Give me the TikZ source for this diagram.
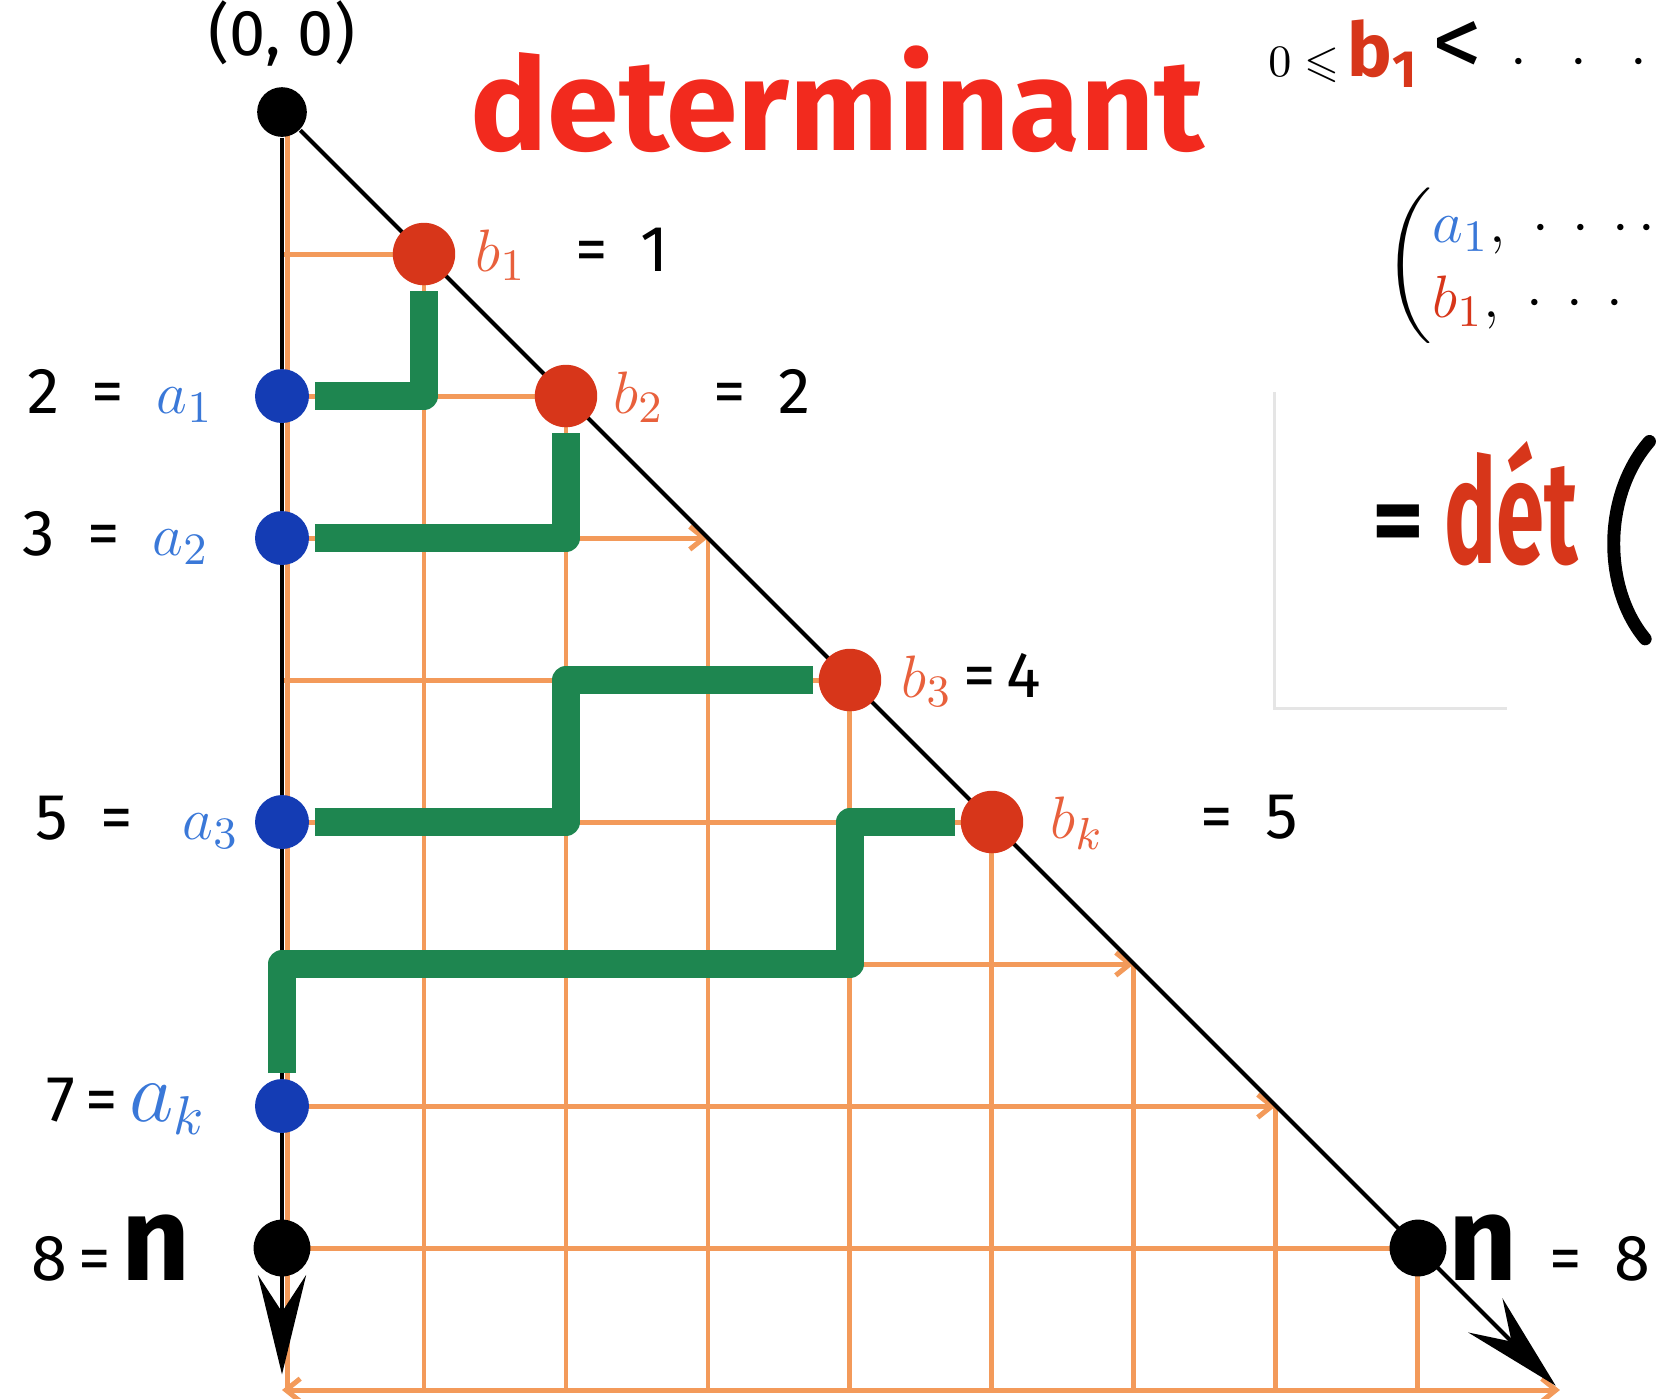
\documentclass[tikz,border=0pt]{standalone}
\usepackage{amsmath,amssymb}
\usepackage{fontspec}
\setmainfont{Fira Sans}
\usepackage{tikz}
\usetikzlibrary{arrows.meta,positioning,calc}
\definecolor{gridor}{HTML}{F39A5A}
\definecolor{pathgreen}{HTML}{1E8650}
\definecolor{dotred}{HTML}{D7361A}
\definecolor{dotblue}{HTML}{143CB4}
\definecolor{titlered}{HTML}{F22A1E}
\definecolor{labred}{HTML}{E8603C}
\definecolor{labblue}{HTML}{3A78D8}

\begin{document}
\begin{tikzpicture}[x=1cm, y=-1cm, >=Stealth,
  grd/.style={draw=gridor, line width=1pt},
  grdtip/.style={grd, -{Straight Barb[length=1mm, width=1.6mm]}},
  lpath/.style={draw=pathgreen, line width=5.6pt, line join=round, shorten <=1pt, shorten >=1pt},
  dotc/.style={circle, inner sep=0pt, minimum size=#1},
  rdot/.style={dotc=4.4mm, fill=dotred},
  bdot/.style={dotc=3.8mm, fill=dotblue},
  kdot/.style={dotc=4mm, fill=black},
  arr/.style={draw=black, line width=0.8pt, -{Stealth[length=7mm, width=3.4mm, inset=2.6mm]}},
  lab/.style={font=\fontsize{13}{15}\selectfont, inner sep=0pt}]
  \useasboundingbox (-1.986,-0.789) rectangle (9.775,9.063);
  \draw[black!10, line width=0.6pt] (6.99,1.97) |- (8.63,4.2);

  % grid under the diagonal
  \draw[grd] (0.04,0) -- (0.04,9);
  \foreach \i in {1,2,4,5,8} \draw[grd] (0,\i) -- (\i,\i);
  \foreach \i in {3,6,7} \draw[grdtip] (0,\i) -- (\i,\i);
  \draw[grd, {Straight Barb[length=1mm, width=1.6mm]}-{Straight Barb[length=1mm, width=1.6mm]}] (0,9) -- (9,9);
  \foreach \j in {1,...,8} \draw[grd] (\j,\j) -- (\j,9);

  \node[kdot, minimum size=3.5mm] (o) at (0,0) {};
  \coordinate (vtip) at (0,8.89);
  \coordinate (dtip) at (8.97,8.97);
  \draw[arr] (o) -- (vtip);
  \draw[arr] (o) -- (dtip);

  \node[rdot] (b1) at (1,1) {};
  \node[rdot] (b2) at (2,2) {};
  \node[rdot] (b3) at (4,4) {};
  \node[rdot] (bk) at (5,5) {};
  \node[kdot] (nd) at (8,8) {};
  \node[bdot] (a1) at (0,2) {};
  \node[bdot] (a2) at (0,3) {};
  \node[bdot] (a3) at (0,5) {};
  \node[bdot] (ak) at (0,7) {};
  \node[kdot] (na) at (0,8) {};

  % lattice paths
  \coordinate (c3) at (2,4);
  \coordinate (c4) at (4,6);
  \draw[lpath] (a1) -| (b1);
  \draw[lpath] (a2) -| (b2);
  \draw[lpath] (a3) -| (c3) -- (b3);
  \draw[lpath] (ak) |- (c4) |- (bk);

  \node[lab, above=1.3mm of o] (orig) {(0,\ 0)};
  \node[text=titlered, anchor=base west, inner sep=0pt] (title) at (1.32,0.27)
    {\resizebox{5.17cm}{!}{\bfseries determinant}};

  \node[lab, left=0.28cm of a1] (l2) {2\enspace=\enspace\textcolor{labblue}{$a_1$}};
  \node[lab, left=0.31cm of a2] (l3) {3\enspace=\enspace\textcolor{labblue}{$a_2$}};
  \node[lab, left=0.1cm of a3] (l5) {5\enspace=\enspace\ \textcolor{labblue}{$a_3$}};
  \node[lab, left=0.33cm of ak] (l7) {7\,=\,\textcolor{labblue}{\fontsize{16}{16}\selectfont$a_k$}};
  \node[lab, left=0.43cm of na] (l8) {8\,=\,{\fontsize{24}{24}\selectfont\bfseries n}};

  \node[lab, right=0.13cm of b1] (r1) {\textcolor{labred}{$b_1$}\enspace\ =\enspace1};
  \node[lab, right=0.1cm of b2] (r2) {\textcolor{labred}{$b_2$}\enspace\ =\enspace2};
  \node[lab, right=0.13cm of b3] (r3) {\textcolor{labred}{$b_3$}\,=\,4};
  \node[lab, right=0.18cm of bk] (r5) {\textcolor{labred}{$b_k$}\quad\enspace=\enspace5};
  \node[lab, right=0cm of nd] (r8) {{\fontsize{24}{24}\selectfont\bfseries n}\enspace=\enspace8};

  \node[anchor=west, inner sep=0pt] (ineq) at (6.94,-0.41)
    {{\fontsize{9}{10}\selectfont$0\leqslant$}\,{\fontsize{15}{15}\selectfont\bfseries\color{dotred}b\textsubscript{1}}\;{\fontsize{20}{20}\selectfont <}\;\;{\fontsize{12}{12}\selectfont$\cdot\enspace\cdot\enspace\cdot$}};
  \node[lab, anchor=west] (mat) at (7.76,1.08)
    {$\left(\begin{array}{@{}l@{}}\textcolor{labblue}{a_1},\ \cdot\,\cdot\,\cdot\,\cdot\\
      \textcolor{dotred}{b_1},\ \cdot\,\cdot\,\cdot\end{array}\right.$};
  \node[font=\fontsize{20}{20}\selectfont\bfseries, inner sep=0pt] (eqs) at (7.86,2.94) {=};
  \node[text=dotred, anchor=base west, inner sep=0pt] (det) at (8.18,3.18)
    {\resizebox{0.94cm}{0.86cm}{\bfseries dét}};
  \draw[line width=2.6pt, line cap=round] (9.63,2.32) .. controls (9.3,2.7) and (9.3,3.35) .. (9.6,3.71);
\end{tikzpicture}
\end{document}
